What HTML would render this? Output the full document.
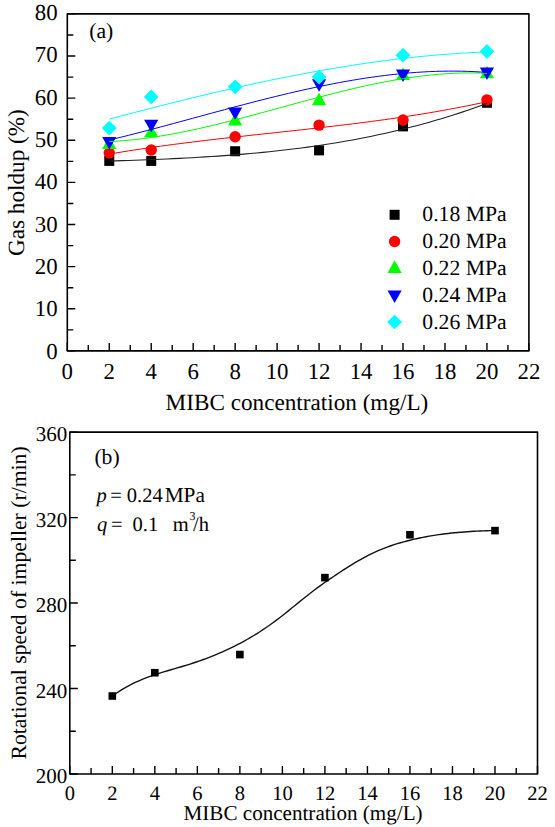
<!DOCTYPE html>
<html><head><meta charset="utf-8"><style>
html,body{margin:0;padding:0;background:#fff;}
svg{display:block;}
text{font-family:"Liberation Serif", serif;fill:#000;text-rendering:geometricPrecision;}
</style></head><body>
<svg width="555" height="827" viewBox="0 0 555 827">
<rect width="555" height="827" fill="#fff"/>
<rect x="67.30" y="13.90" width="461.60" height="337.00" fill="none" stroke="#000" stroke-width="1.6" stroke-linejoin="round"/>
<path d="M67.30 350.90V342.90M88.28 350.90V344.90M109.26 350.90V342.90M130.25 350.90V344.90M151.23 350.90V342.90M172.21 350.90V344.90M193.19 350.90V342.90M214.17 350.90V344.90M235.15 350.90V342.90M256.14 350.90V344.90M277.12 350.90V342.90M298.10 350.90V344.90M319.08 350.90V342.90M340.06 350.90V344.90M361.05 350.90V342.90M382.03 350.90V344.90M403.01 350.90V342.90M423.99 350.90V344.90M444.97 350.90V342.90M465.95 350.90V344.90M486.94 350.90V342.90M507.92 350.90V344.90M528.90 350.90V342.90M67.30 350.90H75.30M67.30 329.84H73.30M67.30 308.77H75.30M67.30 287.71H73.30M67.30 266.65H75.30M67.30 245.59H73.30M67.30 224.52H75.30M67.30 203.46H73.30M67.30 182.40H75.30M67.30 161.34H73.30M67.30 140.27H75.30M67.30 119.21H73.30M67.30 98.15H75.30M67.30 77.09H73.30M67.30 56.02H75.30M67.30 34.96H73.30M67.30 13.90H75.30" stroke="#000" stroke-width="1.4" fill="none"/>
<text x="67.30" y="378.6" font-size="22.8" text-anchor="middle">0</text>
<text x="109.26" y="378.6" font-size="22.8" text-anchor="middle">2</text>
<text x="151.23" y="378.6" font-size="22.8" text-anchor="middle">4</text>
<text x="193.19" y="378.6" font-size="22.8" text-anchor="middle">6</text>
<text x="235.15" y="378.6" font-size="22.8" text-anchor="middle">8</text>
<text x="277.12" y="378.6" font-size="22.8" text-anchor="middle">10</text>
<text x="319.08" y="378.6" font-size="22.8" text-anchor="middle">12</text>
<text x="361.05" y="378.6" font-size="22.8" text-anchor="middle">14</text>
<text x="403.01" y="378.6" font-size="22.8" text-anchor="middle">16</text>
<text x="444.97" y="378.6" font-size="22.8" text-anchor="middle">18</text>
<text x="486.94" y="378.6" font-size="22.8" text-anchor="middle">20</text>
<text x="528.90" y="378.6" font-size="22.8" text-anchor="middle">22</text>
<text x="57.6" y="358.80" font-size="22.8" text-anchor="end">0</text>
<text x="57.6" y="316.45" font-size="22.8" text-anchor="end">10</text>
<text x="57.6" y="274.10" font-size="22.8" text-anchor="end">20</text>
<text x="57.6" y="231.75" font-size="22.8" text-anchor="end">30</text>
<text x="57.6" y="189.40" font-size="22.8" text-anchor="end">40</text>
<text x="57.6" y="147.05" font-size="22.8" text-anchor="end">50</text>
<text x="57.6" y="104.70" font-size="22.8" text-anchor="end">60</text>
<text x="57.6" y="62.35" font-size="22.8" text-anchor="end">70</text>
<text x="57.6" y="20.00" font-size="22.8" text-anchor="end">80</text>
<text x="165.6" y="409.5" font-size="23.2">MIBC concentration (mg/L)</text>
<text transform="translate(23.8 182.6) rotate(-90)" font-size="23.2" text-anchor="middle">Gas holdup (%)</text>
<text x="89.2" y="37.6" font-size="21.7">(a)</text>
<rect x="104.26" y="155.92" width="10" height="10" fill="#000"/>
<rect x="146.23" y="155.92" width="10" height="10" fill="#000"/>
<rect x="230.15" y="146.23" width="10" height="10" fill="#000"/>
<rect x="314.08" y="145.38" width="10" height="10" fill="#000"/>
<rect x="398.01" y="121.37" width="10" height="10" fill="#000"/>
<rect x="481.94" y="97.78" width="10" height="10" fill="#000"/>
<circle cx="109.26" cy="152.91" r="5.7" fill="#f00"/>
<circle cx="151.23" cy="149.96" r="5.7" fill="#f00"/>
<circle cx="235.15" cy="136.69" r="5.7" fill="#f00"/>
<circle cx="319.08" cy="125.11" r="5.7" fill="#f00"/>
<circle cx="403.01" cy="120.06" r="5.7" fill="#f00"/>
<circle cx="486.94" cy="99.83" r="5.7" fill="#f00"/>
<path d="M109.26 136.50L116.36 149.10L102.16 149.10Z" fill="#0f0"/>
<path d="M151.23 124.71L158.33 137.31L144.13 137.31Z" fill="#0f0"/>
<path d="M235.15 112.91L242.25 125.51L228.05 125.51Z" fill="#0f0"/>
<path d="M319.08 92.69L326.18 105.29L311.98 105.29Z" fill="#0f0"/>
<path d="M403.01 67.42L410.11 80.02L395.91 80.02Z" fill="#0f0"/>
<path d="M486.94 65.73L494.04 78.33L479.84 78.33Z" fill="#0f0"/>
<path d="M109.26 149.52L116.36 136.92L102.16 136.92Z" fill="#00f"/>
<path d="M151.23 132.25L158.33 119.65L144.13 119.65Z" fill="#00f"/>
<path d="M235.15 120.04L242.25 107.44L228.05 107.44Z" fill="#00f"/>
<path d="M319.08 91.81L326.18 79.21L311.98 79.21Z" fill="#00f"/>
<path d="M403.01 82.12L410.11 69.52L395.91 69.52Z" fill="#00f"/>
<path d="M486.94 80.02L494.04 67.42L479.84 67.42Z" fill="#00f"/>
<path d="M109.26 120.71L116.66 128.06L109.26 135.41L101.86 128.06Z" fill="#0ff"/>
<path d="M151.23 89.54L158.63 96.89L151.23 104.24L143.83 96.89Z" fill="#0ff"/>
<path d="M235.15 79.43L242.55 86.78L235.15 94.13L227.75 86.78Z" fill="#0ff"/>
<path d="M319.08 69.74L326.48 77.09L319.08 84.44L311.68 77.09Z" fill="#0ff"/>
<path d="M403.01 47.83L410.41 55.18L403.01 62.53L395.61 55.18Z" fill="#0ff"/>
<path d="M486.94 44.04L494.34 51.39L486.94 58.74L479.54 51.39Z" fill="#0ff"/>
<path d="M109.26 161.06 L115.66 160.86 L122.07 160.66 L128.47 160.45 L134.87 160.23 L141.27 160.00 L147.67 159.75 L154.07 159.50 L160.47 159.24 L166.87 158.96 L173.28 158.66 L179.68 158.35 L186.08 158.02 L192.48 157.68 L198.88 157.31 L205.28 156.92 L211.68 156.51 L218.08 156.08 L224.49 155.63 L230.89 155.15 L237.29 154.65 L243.69 154.11 L250.09 153.55 L256.49 152.97 L262.89 152.35 L269.29 151.70 L275.70 151.01 L282.10 150.30 L288.50 149.55 L294.90 148.76 L301.30 147.94 L307.70 147.08 L314.10 146.18 L320.50 145.24 L326.91 144.26 L333.31 143.24 L339.71 142.18 L346.11 141.07 L352.51 139.92 L358.91 138.72 L365.31 137.47 L371.71 136.18 L378.12 134.83 L384.52 133.44 L390.92 131.99 L397.32 130.49 L403.72 128.94 L410.12 127.33 L416.52 125.67 L422.92 123.95 L429.33 122.17 L435.73 120.33 L442.13 118.43 L448.53 116.48 L454.93 114.46 L461.33 112.37 L467.73 110.22 L474.13 108.01 L480.54 105.73 L486.94 103.38" fill="none" stroke="#222" stroke-width="1.1"/>
<path d="M109.26 154.07 L115.66 152.99 L122.07 151.94 L128.47 150.91 L134.87 149.92 L141.27 148.95 L147.67 148.01 L154.07 147.09 L160.47 146.20 L166.87 145.32 L173.28 144.47 L179.68 143.64 L186.08 142.83 L192.48 142.03 L198.88 141.25 L205.28 140.48 L211.68 139.72 L218.08 138.98 L224.49 138.25 L230.89 137.52 L237.29 136.81 L243.69 136.10 L250.09 135.40 L256.49 134.70 L262.89 134.00 L269.29 133.31 L275.70 132.61 L282.10 131.92 L288.50 131.22 L294.90 130.52 L301.30 129.82 L307.70 129.11 L314.10 128.39 L320.50 127.66 L326.91 126.93 L333.31 126.18 L339.71 125.42 L346.11 124.65 L352.51 123.86 L358.91 123.06 L365.31 122.24 L371.71 121.40 L378.12 120.54 L384.52 119.66 L390.92 118.76 L397.32 117.83 L403.72 116.88 L410.12 115.90 L416.52 114.90 L422.92 113.87 L429.33 112.81 L435.73 111.71 L442.13 110.59 L448.53 109.43 L454.93 108.23 L461.33 107.00 L467.73 105.73 L474.13 104.43 L480.54 103.08 L486.94 101.69" fill="none" stroke="#ff0000" stroke-width="1.0"/>
<path d="M109.26 141.61 L115.66 141.25 L122.07 140.79 L128.47 140.23 L134.87 139.56 L141.27 138.81 L147.67 137.97 L154.07 137.05 L160.47 136.05 L166.87 134.97 L173.28 133.82 L179.68 132.60 L186.08 131.31 L192.48 129.97 L198.88 128.57 L205.28 127.12 L211.68 125.63 L218.08 124.09 L224.49 122.51 L230.89 120.89 L237.29 119.24 L243.69 117.57 L250.09 115.87 L256.49 114.15 L262.89 112.42 L269.29 110.68 L275.70 108.92 L282.10 107.17 L288.50 105.42 L294.90 103.67 L301.30 101.93 L307.70 100.20 L314.10 98.49 L320.50 96.80 L326.91 95.13 L333.31 93.49 L339.71 91.89 L346.11 90.32 L352.51 88.80 L358.91 87.32 L365.31 85.88 L371.71 84.51 L378.12 83.18 L384.52 81.92 L390.92 80.73 L397.32 79.60 L403.72 78.55 L410.12 77.57 L416.52 76.68 L422.92 75.87 L429.33 75.15 L435.73 74.52 L442.13 73.99 L448.53 73.56 L454.93 73.24 L461.33 73.03 L467.73 72.93 L474.13 72.94 L480.54 73.08 L486.94 73.35" fill="none" stroke="#00ff00" stroke-width="1.0"/>
<path d="M109.26 140.10 L115.66 138.54 L122.07 136.95 L128.47 135.34 L134.87 133.70 L141.27 132.05 L147.67 130.38 L154.07 128.69 L160.47 126.99 L166.87 125.27 L173.28 123.55 L179.68 121.82 L186.08 120.08 L192.48 118.35 L198.88 116.61 L205.28 114.87 L211.68 113.14 L218.08 111.41 L224.49 109.69 L230.89 107.98 L237.29 106.28 L243.69 104.59 L250.09 102.93 L256.49 101.28 L262.89 99.65 L269.29 98.04 L275.70 96.46 L282.10 94.91 L288.50 93.39 L294.90 91.89 L301.30 90.44 L307.70 89.01 L314.10 87.63 L320.50 86.28 L326.91 84.98 L333.31 83.72 L339.71 82.51 L346.11 81.35 L352.51 80.24 L358.91 79.18 L365.31 78.17 L371.71 77.23 L378.12 76.34 L384.52 75.51 L390.92 74.75 L397.32 74.06 L403.72 73.43 L410.12 72.87 L416.52 72.39 L422.92 71.98 L429.33 71.64 L435.73 71.39 L442.13 71.21 L448.53 71.12 L454.93 71.12 L461.33 71.20 L467.73 71.37 L474.13 71.63 L480.54 71.99 L486.94 72.44" fill="none" stroke="#0000ff" stroke-width="1.0"/>
<path d="M109.26 119.15 L115.66 117.45 L122.07 115.76 L128.47 114.08 L134.87 112.41 L141.27 110.74 L147.67 109.09 L154.07 107.45 L160.47 105.82 L166.87 104.21 L173.28 102.60 L179.68 101.01 L186.08 99.43 L192.48 97.87 L198.88 96.32 L205.28 94.79 L211.68 93.28 L218.08 91.78 L224.49 90.30 L230.89 88.84 L237.29 87.39 L243.69 85.97 L250.09 84.56 L256.49 83.18 L262.89 81.82 L269.29 80.48 L275.70 79.16 L282.10 77.86 L288.50 76.59 L294.90 75.34 L301.30 74.11 L307.70 72.91 L314.10 71.74 L320.50 70.59 L326.91 69.47 L333.31 68.38 L339.71 67.32 L346.11 66.28 L352.51 65.27 L358.91 64.30 L365.31 63.35 L371.71 62.43 L378.12 61.55 L384.52 60.70 L390.92 59.88 L397.32 59.10 L403.72 58.35 L410.12 57.63 L416.52 56.95 L422.92 56.30 L429.33 55.69 L435.73 55.12 L442.13 54.59 L448.53 54.09 L454.93 53.63 L461.33 53.21 L467.73 52.84 L474.13 52.50 L480.54 52.20 L486.94 51.95" fill="none" stroke="#00ffff" stroke-width="1.0"/>
<rect x="389.60" y="209.80" width="10" height="10" fill="#000"/>
<circle cx="394.60" cy="241.50" r="5.7" fill="#f00"/>
<path d="M394.60 260.30L401.70 272.90L387.50 272.90Z" fill="#0f0"/>
<path d="M394.60 303.00L401.70 290.40L387.50 290.40Z" fill="#00f"/>
<path d="M394.60 314.65L402.00 322.00L394.60 329.35L387.20 322.00Z" fill="#0ff"/>
<text x="422.3" y="220.70" font-size="21.7">0.18 MPa</text>
<text x="422.3" y="247.70" font-size="21.7">0.20 MPa</text>
<text x="422.3" y="274.70" font-size="21.7">0.22 MPa</text>
<text x="422.3" y="301.70" font-size="21.7">0.24 MPa</text>
<text x="422.3" y="328.70" font-size="21.7">0.26 MPa</text>
<rect x="69.80" y="432.10" width="467.70" height="341.90" fill="none" stroke="#000" stroke-width="1.6" stroke-linejoin="round"/>
<path d="M69.80 774.00V766.00M91.06 774.00V768.00M112.32 774.00V766.00M133.58 774.00V768.00M154.84 774.00V766.00M176.10 774.00V768.00M197.35 774.00V766.00M218.61 774.00V768.00M239.87 774.00V766.00M261.13 774.00V768.00M282.39 774.00V766.00M303.65 774.00V768.00M324.91 774.00V766.00M346.17 774.00V768.00M367.43 774.00V766.00M388.69 774.00V768.00M409.95 774.00V766.00M431.20 774.00V768.00M452.46 774.00V766.00M473.72 774.00V768.00M494.98 774.00V766.00M516.24 774.00V768.00M537.50 774.00V766.00M69.80 774.00H77.80M69.80 731.26H75.80M69.80 688.52H77.80M69.80 645.79H75.80M69.80 603.05H77.80M69.80 560.31H75.80M69.80 517.58H77.80M69.80 474.84H75.80M69.80 432.10H77.80" stroke="#000" stroke-width="1.4" fill="none"/>
<text x="69.80" y="800.2" font-size="20.5" text-anchor="middle">0</text>
<text x="112.32" y="800.2" font-size="20.5" text-anchor="middle">2</text>
<text x="154.84" y="800.2" font-size="20.5" text-anchor="middle">4</text>
<text x="197.35" y="800.2" font-size="20.5" text-anchor="middle">6</text>
<text x="239.87" y="800.2" font-size="20.5" text-anchor="middle">8</text>
<text x="282.39" y="800.2" font-size="20.5" text-anchor="middle">10</text>
<text x="324.91" y="800.2" font-size="20.5" text-anchor="middle">12</text>
<text x="367.43" y="800.2" font-size="20.5" text-anchor="middle">14</text>
<text x="409.95" y="800.2" font-size="20.5" text-anchor="middle">16</text>
<text x="452.46" y="800.2" font-size="20.5" text-anchor="middle">18</text>
<text x="494.98" y="800.2" font-size="20.5" text-anchor="middle">20</text>
<text x="537.50" y="800.2" font-size="20.5" text-anchor="middle">22</text>
<text x="67.2" y="783.20" font-size="21" text-anchor="end">200</text>
<text x="67.2" y="697.73" font-size="21" text-anchor="end">240</text>
<text x="67.2" y="612.25" font-size="21" text-anchor="end">280</text>
<text x="67.2" y="526.78" font-size="21" text-anchor="end">320</text>
<text x="67.2" y="441.30" font-size="21" text-anchor="end">360</text>
<text x="183.6" y="820.4" font-size="21.1">MIBC concentration (mg/L)</text>
<text transform="translate(25.7 602.9) rotate(-90)" font-size="21.7" text-anchor="middle">Rotational speed of impeller (r/min)</text>
<text x="94.4" y="463.6" font-size="21.7">(b)</text>
<text x="96.4" y="502" font-size="20.5" font-style="italic">p</text>
<text x="110.2" y="502" font-size="20.5">=</text>
<text x="126.8" y="502" font-size="20.5">0.24</text>
<text x="164.7" y="502" font-size="21.3">MPa</text>
<text x="96.9" y="530.5" font-size="20.5" font-style="italic">q</text>
<text x="111" y="530.5" font-size="20.5">=</text>
<text x="132.5" y="530.5" font-size="20.5">0.1</text>
<text x="172.8" y="530.5" font-size="20.5">m</text>
<text x="189.5" y="520.4" font-size="12">3</text>
<text x="193" y="530.5" font-size="20.5">/h</text>
<path d="M113.50 695.24 L116.69 693.00 L119.88 690.90 L123.07 688.93 L126.26 687.09 L129.45 685.36 L132.63 683.73 L135.82 682.20 L139.01 680.77 L142.20 679.41 L145.39 678.14 L148.58 676.93 L151.77 675.79 L154.96 674.69 L158.15 673.65 L161.34 672.64 L164.53 671.67 L167.71 670.71 L170.90 669.78 L174.09 668.85 L177.28 667.92 L180.47 666.99 L183.66 666.04 L186.85 665.07 L190.04 664.07 L193.23 663.03 L196.42 661.97 L199.61 660.87 L202.79 659.74 L205.98 658.56 L209.17 657.35 L212.36 656.10 L215.55 654.80 L218.74 653.47 L221.93 652.09 L225.12 650.66 L228.31 649.18 L231.50 647.66 L234.68 646.08 L237.87 644.46 L241.06 642.78 L244.25 641.05 L247.44 639.26 L250.63 637.41 L253.82 635.51 L257.01 633.54 L260.20 631.51 L263.39 629.42 L266.58 627.27 L269.76 625.05 L272.95 622.76 L276.14 620.41 L279.33 617.99 L282.52 615.51 L285.71 612.98 L288.90 610.42 L292.09 607.83 L295.28 605.23 L298.47 602.63 L301.66 600.04 L304.84 597.48 L308.03 594.95 L311.22 592.46 L314.41 590.03 L317.60 587.65 L320.79 585.33 L323.98 583.05 L327.17 580.82 L330.36 578.63 L333.55 576.47 L336.74 574.34 L339.92 572.24 L343.11 570.17 L346.30 568.12 L349.49 566.11 L352.68 564.14 L355.87 562.22 L359.06 560.35 L362.25 558.55 L365.44 556.81 L368.63 555.16 L371.82 553.58 L375.00 552.08 L378.19 550.67 L381.38 549.34 L384.57 548.08 L387.76 546.89 L390.95 545.77 L394.14 544.70 L397.33 543.70 L400.52 542.75 L403.71 541.85 L406.89 541.00 L410.08 540.20 L413.27 539.43 L416.46 538.70 L419.65 538.02 L422.84 537.37 L426.03 536.76 L429.22 536.18 L432.41 535.64 L435.60 535.13 L438.79 534.66 L441.97 534.22 L445.16 533.81 L448.35 533.43 L451.54 533.07 L454.73 532.75 L457.92 532.45 L461.11 532.18 L464.30 531.93 L467.49 531.70 L470.68 531.50 L473.87 531.31 L477.05 531.15 L480.24 531.01 L483.43 530.88 L486.62 530.77 L489.81 530.67 L493.00 530.59" fill="none" stroke="#111" stroke-width="1.4"/>
<rect x="108.52" y="692.20" width="7.6" height="7.6" fill="#000"/>
<rect x="151.04" y="668.91" width="7.6" height="7.6" fill="#000"/>
<rect x="236.07" y="650.75" width="7.6" height="7.6" fill="#000"/>
<rect x="321.11" y="573.82" width="7.6" height="7.6" fill="#000"/>
<rect x="406.15" y="530.98" width="7.6" height="7.6" fill="#000"/>
<rect x="491.18" y="526.81" width="7.6" height="7.6" fill="#000"/>
</svg></body></html>
